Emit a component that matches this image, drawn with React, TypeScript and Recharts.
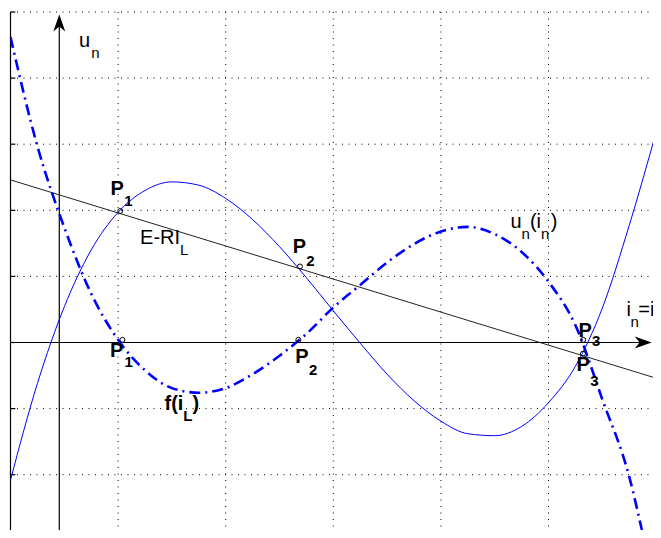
import { LineChart, Line, XAxis, YAxis, CartesianGrid, ReferenceLine, ReferenceDot } from 'recharts'

// i_L sample positions (grid units) and the N-shaped characteristic f(i_L)
const iL = [0, 0.25, 0.5, 0.75, 1, 1.25, 1.5, 1.75, 2, 2.25, 2.5, 2.75, 3, 3.25, 3.5, 3.75, 4, 4.25, 4.5, 4.75, 5, 5.25, 5.5, 5.75, 6]
const fIL = [-2.08, -0.62, 0.54, 1.4, 1.97, 2.3, 2.43, 2.38, 2.18, 1.86, 1.45, 0.98, 0.48, -0.01, -0.48, -0.88, -1.19, -1.38, -1.41, -1.27, -0.91, -0.36, 0.52, 1.77, 3.18]

// u_n(i_n), the dash-dot curve
const unI = [0, 0.25, 0.5, 0.75, 1, 1.25, 1.5, 1.75, 2, 2.25, 2.5, 2.75, 3, 3.25, 3.5, 3.75, 4, 4.25, 4.5, 4.75, 5, 5.25, 5.5, 5.75, 5.89]
const unU = [4.62, 2.97, 1.74, 0.74, 0.04, -0.42, -0.69, -0.76, -0.69, -0.48, -0.2, 0.13, 0.53, 0.87, 1.21, 1.49, 1.68, 1.75, 1.64, 1.37, 0.92, 0.26, -0.86, -2.03, -3.0]

// load line E - R·i_L
const loadI = [0, 6]
const loadU = [2.46, -0.54]

// operating points: on the load line and on the i_n axis
const opNames = ['1', '2', '3']
const opI = [1.02, 2.69, 5.32]
const opU = [1.99, 1.15, -0.17]
const zeroI = [1.04, 2.675, 5.323]
const zeroU = [0.04, 0.04, 0.04]

const xTicks = [0, 1, 2, 3, 4, 5, 6]
const yTicks = [-3, -2, -1, 0, 1, 2, 3, 4, 5]

const fData = iL.map((x, i) => ({ x, y: fIL[i] }))
const unData = unI.map((x, i) => ({ x, y: unU[i] }))
const loadData = loadI.map((x, i) => ({ x, y: loadU[i] }))

const FONT = '"Liberation Sans", Arial, Helvetica, sans-serif'
const BLUE = '#0000ff'

// label offsets (px) of "P" and its index relative to the little circle
const loadOffsets = [
  { px: -9.8, py: -15.7, sx: 4, sy: -4.7 },
  { px: -7.2, py: -13, sx: 6.3, sy: 0 },
  { px: -6.5, py: 17.7, sx: 7.4, sy: 32.7 },
]
const axisOffsets = [
  { px: -12.5, py: 16.7, sx: 2, sy: 26.7 },
  { px: -3.1, py: 23.3, sx: 10.7, sy: 35 },
  { px: -4.8, py: -2.4, sx: 8.7, sy: 6 },
]

type Part = { t: string; sub?: boolean; dx?: number }

function MathText({ x, y, parts, bold = false, size = 20, subSize = 15, drop = 11 }: {
  x: number; y: number; parts: Part[]; bold?: boolean; size?: number; subSize?: number; drop?: number
}) {
  let level = 0
  return (
    <text x={x} y={y} fontFamily={FONT} fontSize={size} fontWeight={bold ? 'bold' : 'normal'} fill="#000">
      {parts.map((p, i) => {
        const target = p.sub ? 1 : 0
        const dy = (target - level) * drop
        level = target
        return (
          <tspan key={i} dx={p.dx} dy={dy || undefined} fontSize={p.sub ? subSize : size}>
            {p.t}
          </tspan>
        )
      })}
    </text>
  )
}

// free text labels, anchored in data units at the baseline-left of the text
const textLabels: { x: number; y: number; parts: Part[]; bold?: boolean }[] = [
  { x: 0.637, y: 4.463, parts: [{ t: 'u' }, { t: 'n', sub: true, dx: 1 }] },
  { x: 1.204, y: 1.483, parts: [{ t: 'E-RI' }, { t: 'L', sub: true }] },
  { x: 4.646, y: 1.735, parts: [{ t: 'u' }, { t: 'n', sub: true }, { t: '(' }, { t: 'i' }, { t: 'n', sub: true }, { t: ')', dx: 1.5 }] },
  { x: 5.725, y: 0.398, parts: [{ t: 'i' }, { t: 'n', sub: true, dx: -0.5 }, { t: '=', dx: -0.5 }, { t: 'i' }, { t: 'L', sub: true }] },
  { x: 1.431, y: -1.014, bold: true, parts: [{ t: 'f(i' }, { t: 'L', sub: true }, { t: ')' }] },
]

function ArrowLine(props: any) {
  const { x1, y1, x2, y2 } = props
  const a = Math.atan2(y2 - y1, x2 - x1)
  const pt = (back: number, side: number) => {
    const bx = x2 - back * Math.cos(a) - side * Math.sin(a)
    const by = y2 - back * Math.sin(a) + side * Math.cos(a)
    return `${bx},${by}`
  }
  return (
    <g>
      <line x1={x1} y1={y1} x2={x2 - 10 * Math.cos(a)} y2={y2 - 10 * Math.sin(a)} stroke="#000" strokeWidth={1.2} />
      <polygon points={`${x2},${y2} ${pt(17, -6)} ${pt(12, 0)} ${pt(17, 6)}`} fill="#000" />
    </g>
  )
}

function OpPoint({ cx, cy, name, off }: { cx: number; cy: number; name: string; off: { px: number; py: number; sx: number; sy: number } }) {
  return (
    <g>
      <circle cx={cx} cy={cy} r={2.5} fill="none" stroke="#000" strokeWidth={1} />
      <text x={cx + off.px} y={cy + off.py} fontFamily={FONT} fontSize={20} fontWeight="bold" fill="#000">P</text>
      <text x={cx + off.sx} y={cy + off.sy} fontFamily={FONT} fontSize={15} fontWeight="bold" fill="#000">{name}</text>
    </g>
  )
}

export default function App() {
  return (
    <div style={{ width: 653, height: 530, overflow: 'hidden', marginBottom: -8 }}>
      <style>{'html,body{overflow:hidden}'}</style>
      <LineChart width={653} height={541} margin={{ top: 4, right: 4.9, bottom: 8.2, left: 2.5 }}>
        <XAxis type="number" dataKey="x" domain={[0, 6]} ticks={xTicks} hide allowDataOverflow />
        <YAxis type="number" domain={[-3, 5]} ticks={yTicks} hide allowDataOverflow />
        <CartesianGrid stroke="#000" strokeDasharray="1 5.5" horizontalValues={yTicks} verticalValues={xTicks} />

        {/* left frame edge with short inward ticks */}
        <ReferenceLine x={0} stroke="#000" strokeWidth={1.2} />
        {yTicks.map(t => (
          <ReferenceLine key={t} segment={[{ x: 0, y: t }, { x: 0.045, y: t }]} stroke="#000" strokeWidth={1.2} />
        ))}

        {/* u_n and i_n axes */}
        <ReferenceLine segment={[{ x: 0, y: 0 }, { x: 5.959, y: 0 }]} shape={ArrowLine} />
        <ReferenceLine segment={[{ x: 0.4535, y: -3 }, { x: 0.4535, y: 4.962 }]} shape={ArrowLine} />

        <Line data={loadData} dataKey="y" type="linear" stroke="#222" strokeWidth={1} dot={false} isAnimationActive={false} />
        <Line data={fData} dataKey="y" type="monotone" stroke={BLUE} strokeWidth={1} dot={false} isAnimationActive={false} />
        <Line data={unData} dataKey="y" type="monotone" stroke={BLUE} strokeWidth={2.6} strokeDasharray="11 5 2 5" dot={false} isAnimationActive={false} />

        {opI.map((x, i) => (
          <ReferenceDot key={'u' + i} x={x} y={opU[i]} r={2.5}
            shape={(p: any) => <OpPoint cx={p.cx} cy={p.cy} name={opNames[i]} off={loadOffsets[i]} />} />
        ))}
        {zeroI.map((x, i) => (
          <ReferenceDot key={'z' + i} x={x} y={zeroU[i]} r={2.5}
            shape={(p: any) => <OpPoint cx={p.cx} cy={p.cy} name={opNames[i]} off={axisOffsets[i]} />} />
        ))}

        {textLabels.map((l, i) => (
          <ReferenceDot key={'t' + i} x={l.x} y={l.y} r={1}
            shape={(p: any) => <MathText x={p.cx} y={p.cy} parts={l.parts} bold={l.bold} />} />
        ))}
      </LineChart>
    </div>
  )
}
